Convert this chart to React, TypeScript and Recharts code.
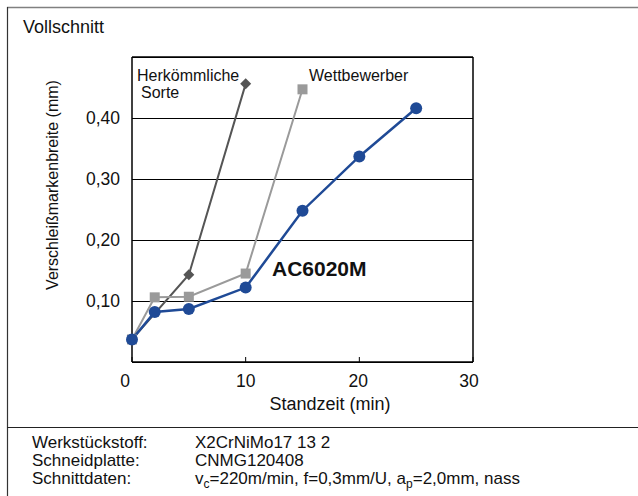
import React from "react";
import {
  LineChart,
  Line,
  XAxis,
  YAxis,
  CartesianGrid,
  ReferenceLine,
} from "recharts";

// Standzeit (min) and Verschleißmarkenbreite (mm) per Sorte
const timeAC6020M = [0, 2, 5, 10, 15, 20, 25];
const wearAC6020M = [0.037, 0.082, 0.087, 0.122, 0.248, 0.337, 0.416];
const timeCompetitor = [0, 2, 5, 10, 15];
const wearCompetitor = [0.037, 0.106, 0.107, 0.145, 0.447];
const timeConventional = [0, 5, 10];
const wearConventional = [0.037, 0.143, 0.456];

const xTicks = [0, 10, 20, 30];
const yTicks = [0.1, 0.2, 0.3, 0.4];

const FONT = "'Liberation Sans', Arial, Helvetica, sans-serif";
const BLUE = "#1f4a96";
const DARK = "#555555";
const LIGHT = "#9a9a9a";

const toPoints = (xs: number[], ys: number[]) =>
  xs.map((x, i) => ({ x, y: ys[i] }));

const dataAC6020M = toPoints(timeAC6020M, wearAC6020M);
const dataCompetitor = toPoints(timeCompetitor, wearCompetitor);
const dataConventional = toPoints(timeConventional, wearConventional);

const CircleDot = (props: any) => (
  <circle key={props.key ?? props.index} cx={props.cx} cy={props.cy} r={6} fill={BLUE} />
);

const SquareDot = (props: any) => (
  <rect
    key={props.key ?? props.index}
    x={props.cx - 5}
    y={props.cy - 5}
    width={10}
    height={10}
    fill={LIGHT}
  />
);

const DiamondDot = (props: any) => {
  const { cx, cy } = props;
  const s = 5.5;
  return (
    <polygon
      key={props.key ?? props.index}
      points={`${cx},${cy - s} ${cx + s},${cy} ${cx},${cy + s} ${cx - s},${cy}`}
      fill={DARK}
    />
  );
};

// small nudges so the labels sit where the original has them
const xLabelShift: Record<number, number> = { 0: -7, 10: 0, 20: -1, 30: -4 };

const XTick = (props: any) => {
  const { x, y, payload } = props;
  return (
    <text
      x={x + (xLabelShift[payload.value] ?? 0)}
      y={y}
      textAnchor="middle"
      fontSize={17.5}
      fontFamily={FONT}
      fill="#111"
    >
      {payload.value}
    </text>
  );
};

export default function App() {
  return (
    <div
      style={{
        position: "absolute",
        left: 0,
        top: 0,
        width: 638,
        height: 496,
        background: "#fff",
        fontFamily: FONT,
      }}
    >
      <LineChart
        width={638}
        height={496}
        margin={{ top: 57, right: 165, bottom: 94, left: 52 }}
      >
        <CartesianGrid
          vertical={false}
          stroke="#000"
          strokeOpacity={1}
          strokeWidth={1}
          shapeRendering="crispEdges"
        />
        <XAxis
          type="number"
          dataKey="x"
          domain={[0, 30]}
          ticks={xTicks}
          interval={0}
          height={40}
          allowDuplicatedCategory={false}
          tickSize={-5}
          tickMargin={30}
          tick={<XTick />}
          axisLine={{ stroke: "#000", strokeWidth: 1.5 }}
          tickLine={{ stroke: "#000" }}
        />
        <YAxis
          type="number"
          dataKey="y"
          domain={[0, 0.5]}
          ticks={yTicks}
          interval={0}
          width={80}
          tickSize={0}
          tickMargin={12}
          tickLine={false}
          tickFormatter={(v: number) => v.toFixed(2).replace(".", ",")}
          tick={{ fontSize: 17.5, fontFamily: FONT, fill: "#111" }}
          axisLine={{ stroke: "#000", strokeWidth: 1.5 }}
        />
        <ReferenceLine y={0.5} stroke="#000" strokeWidth={1.5} />
        <ReferenceLine x={30} stroke="#000" strokeWidth={1.5} />
        <Line
          data={dataConventional}
          dataKey="y"
          type="linear"
          stroke={DARK}
          strokeWidth={2}
          dot={DiamondDot}
          activeDot={false}
          isAnimationActive={false}
        />
        <Line
          data={dataCompetitor}
          dataKey="y"
          type="linear"
          stroke={LIGHT}
          strokeWidth={2}
          dot={SquareDot}
          activeDot={false}
          isAnimationActive={false}
        />
        <Line
          data={dataAC6020M}
          dataKey="y"
          type="linear"
          stroke={BLUE}
          strokeWidth={2.5}
          dot={CircleDot}
          activeDot={false}
          isAnimationActive={false}
        />
      </LineChart>

      <svg
        width={638}
        height={496}
        style={{ position: "absolute", left: 0, top: 0, pointerEvents: "none" }}
        fontFamily={FONT}
        fill="#111"
      >
        <line x1={7} y1={7.5} x2={638} y2={7.5} stroke="#808080" strokeWidth={1.5} />
        <line x1={7.5} y1={7} x2={7.5} y2={496} stroke="#333" strokeWidth={1.2} />
        <line x1={7} y1={427.5} x2={638} y2={427.5} stroke="#222" strokeWidth={1.2} />

        <text x={23} y={33} fontSize={18}>Vollschnitt</text>

        <text
          x={52}
          y={185}
          fontSize={16}
          textAnchor="middle"
          dominantBaseline="central"
          transform="rotate(-90 52 185)"
        >
          Verschleißmarkenbreite (mm)
        </text>
        <text x={330} y={410} fontSize={18} textAnchor="middle">
          Standzeit (min)
        </text>

        <text x={137} y={81} fontSize={16}>Herkömmliche</text>
        <text x={141} y={98} fontSize={16}>Sorte</text>
        <text x={309} y={81} fontSize={16}>Wettbewerber</text>
        <text x={272} y={276} fontSize={21} fontWeight="bold">AC6020M</text>

        <g fontSize={17}>
          <text x={32} y={448}>Werkstückstoff:</text>
          <text x={32} y={466}>Schneidplatte:</text>
          <text x={32} y={484}>Schnittdaten:</text>
          <text x={195} y={448}>X2CrNiMo17 13 2</text>
          <text x={195} y={466}>CNMG120408</text>
          <text x={195} y={484}>
            v<tspan fontSize={12} dy={4}>c</tspan>
            <tspan dy={-4}>=220m/min, f=0,3mm/U, a</tspan>
            <tspan fontSize={12} dy={4}>p</tspan>
            <tspan dy={-4}>=2,0mm, nass</tspan>
          </text>
        </g>
      </svg>
    </div>
  );
}
